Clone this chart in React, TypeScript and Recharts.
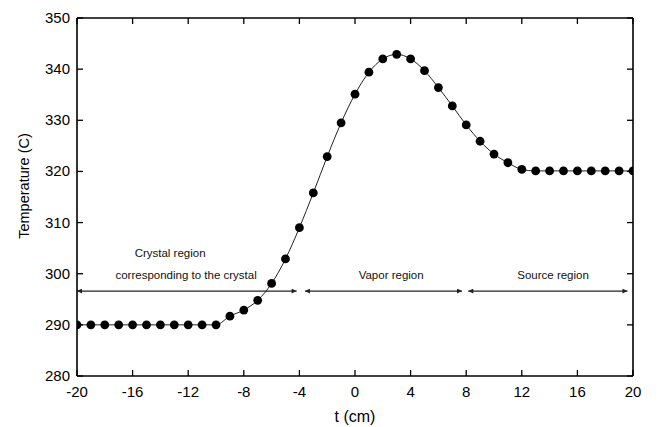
import React from 'react';
import { LineChart, Line, XAxis, YAxis, ReferenceLine, ReferenceDot } from 'recharts';

const positions = [
  -20, -19, -18, -17, -16, -15, -14, -13, -12, -11, -10, -9, -8, -7, -6, -5, -4, -3, -2, -1, 0,
  1, 2, 3, 4, 5, 6, 7, 8, 9, 10, 11, 12, 13, 14, 15, 16, 17, 18, 19, 20,
];
const temperatures = [
  290, 290, 290, 290, 290, 290, 290, 290, 290, 290, 290, 291.7, 292.9, 294.8, 298.1, 302.9, 309.0,
  315.8, 322.9, 329.5, 335.1, 339.4, 342.0, 342.9, 342.0, 339.7, 336.4, 332.8, 329.1, 325.9, 323.4,
  321.7, 320.4, 320.1, 320.1, 320.1, 320.1, 320.1, 320.1, 320.1, 320.1,
];
const xTicks = [-20, -16, -12, -8, -4, 0, 4, 8, 12, 16, 20];
const yTicks = [280, 290, 300, 310, 320, 330, 340, 350];

const arrowLevel = 296.6;
const arrowFrom = [-20, -3.6, 8.15];
const arrowTo = [-4.2, 7.7, 19.6];

const labelTexts = ['Crystal region', 'corresponding to the crystal', 'Vapor region', 'Source region'];
const labelX = [-13.3, -12.15, 2.6, 14.25];
const labelY = [304.0, 299.8, 299.7, 299.7];

const data = positions.map((t, i) => ({ t, temp: temperatures[i] }));

const FONT = 'Liberation Sans, Arial, Helvetica, sans-serif';

const BottomTick = (props: any) => {
  const { x, y, payload } = props;
  return (
    <g>
      <line x1={x} y1={y} x2={x} y2={y - 6} stroke="#000" strokeWidth={1.3} />
      <text x={x} y={y + 21} textAnchor="middle" fontSize={15} fill="#000" fontFamily={FONT}>
        {payload.value}
      </text>
    </g>
  );
};

const TopTick = (props: any) => {
  const { x, y } = props;
  return <line x1={x} y1={y} x2={x} y2={y + 6} stroke="#000" strokeWidth={1.3} />;
};

const LeftTick = (props: any) => {
  const { x, y, payload } = props;
  return (
    <g>
      <line x1={x} y1={y} x2={x + 6} y2={y} stroke="#000" strokeWidth={1.3} />
      <text x={x - 7} y={y + 5} textAnchor="end" fontSize={15} fill="#000" fontFamily={FONT}>
        {payload.value}
      </text>
    </g>
  );
};

const RightTick = (props: any) => {
  const { x, y } = props;
  return <line x1={x} y1={y} x2={x - 6} y2={y} stroke="#000" strokeWidth={1.3} />;
};

const YTitle = (props: any) => {
  const vb = props.viewBox || { x: 0, y: 18, width: 77, height: 358 };
  const cx = vb.x + 23.5;
  const cy = vb.y + vb.height / 2 - 11;
  return (
    <text
      x={cx}
      y={cy}
      transform={`rotate(-90 ${cx} ${cy})`}
      textAnchor="middle"
      dominantBaseline="central"
      fontSize={14.5}
      fill="#000"
      fontFamily={FONT}
    >
      Temperature (C)
    </text>
  );
};

const ArrowShape = (props: any) => {
  const { x1, y1, x2, y2 } = props;
  return (
    <line
      x1={x1}
      y1={y1}
      x2={x2}
      y2={y2}
      stroke="#222"
      strokeWidth={1.2}
      markerStart="url(#arrowStart)"
      markerEnd="url(#arrowEnd)"
    />
  );
};

export default function App() {
  return (
    <div style={{ position: 'absolute', left: 0, top: 0, background: '#fff' }}>
      <LineChart width={659} height={427} data={data} margin={{ top: 17, right: 25, bottom: 0, left: 0 }}>
        <defs>
          <marker id="arrowEnd" viewBox="0 0 10 10" refX="10" refY="5" markerWidth="6" markerHeight="5" orient="auto" markerUnits="userSpaceOnUse">
            <path d="M0,0 L10,5 L0,10 z" fill="#222" />
          </marker>
          <marker id="arrowStart" viewBox="0 0 10 10" refX="10" refY="5" markerWidth="6" markerHeight="5" orient="auto-start-reverse" markerUnits="userSpaceOnUse">
            <path d="M0,0 L10,5 L0,10 z" fill="#222" />
          </marker>
        </defs>
        <XAxis
          dataKey="t"
          type="number"
          domain={[-20, 20]}
          ticks={xTicks}
          allowDataOverflow
          height={51}
          tickSize={0}
          tickMargin={0}
          tickLine={false}
          tick={<BottomTick />}
          axisLine={{ stroke: '#000', strokeWidth: 1.6 }}
          interval={0}
          label={{ value: 't (cm)', position: 'insideBottom', offset: 5, fontSize: 16, fill: '#000', fontFamily: FONT }}
        />
        <XAxis
          xAxisId="top"
          orientation="top"
          dataKey="t"
          type="number"
          domain={[-20, 20]}
          ticks={xTicks}
          allowDataOverflow
          height={1}
          tickSize={0}
          tickMargin={0}
          tickLine={false}
          tick={<TopTick />}
          axisLine={{ stroke: '#000', strokeWidth: 1.6 }}
          interval={0}
        />
        <YAxis
          type="number"
          domain={[280, 350]}
          ticks={yTicks}
          allowDataOverflow
          width={77}
          tickSize={0}
          tickMargin={0}
          tickLine={false}
          tick={<LeftTick />}
          axisLine={{ stroke: '#000', strokeWidth: 1.6 }}
          interval={0}
          label={{ content: (p: any) => <YTitle {...p} /> }}
        />
        <YAxis
          yAxisId="right"
          orientation="right"
          type="number"
          domain={[280, 350]}
          ticks={yTicks}
          allowDataOverflow
          width={1}
          tickSize={0}
          tickMargin={0}
          tickLine={false}
          tick={<RightTick />}
          axisLine={{ stroke: '#000', strokeWidth: 1.6 }}
          interval={0}
        />
        {arrowFrom.map((from, i) => (
          <ReferenceLine
            key={`arrow-${i}`}
            segment={[
              { x: from, y: arrowLevel },
              { x: arrowTo[i], y: arrowLevel },
            ]}
            shape={(p: any) => <ArrowShape {...p} />}
            ifOverflow="visible"
          />
        ))}
        {labelTexts.map((txt, i) => (
          <ReferenceDot
            key={`lbl-${i}`}
            x={labelX[i]}
            y={labelY[i]}
            r={0}
            fill="none"
            stroke="none"
            label={{ value: txt, position: 'center', fontSize: 11.5, fill: '#111', fontFamily: FONT }}
          />
        ))}
        <Line
          xAxisId="top"
          yAxisId="right"
          dataKey="temp"
          type="monotone"
          stroke="none"
          dot={false}
          activeDot={false}
          legendType="none"
          isAnimationActive={false}
        />
        <Line
          dataKey="temp"
          type="monotone"
          stroke="#222"
          strokeWidth={1}
          dot={{ r: 4.4, fill: '#000', stroke: '#000', strokeWidth: 0, clipDot: true }}
          activeDot={false}
          isAnimationActive={false}
        />
      </LineChart>
    </div>
  );
}
